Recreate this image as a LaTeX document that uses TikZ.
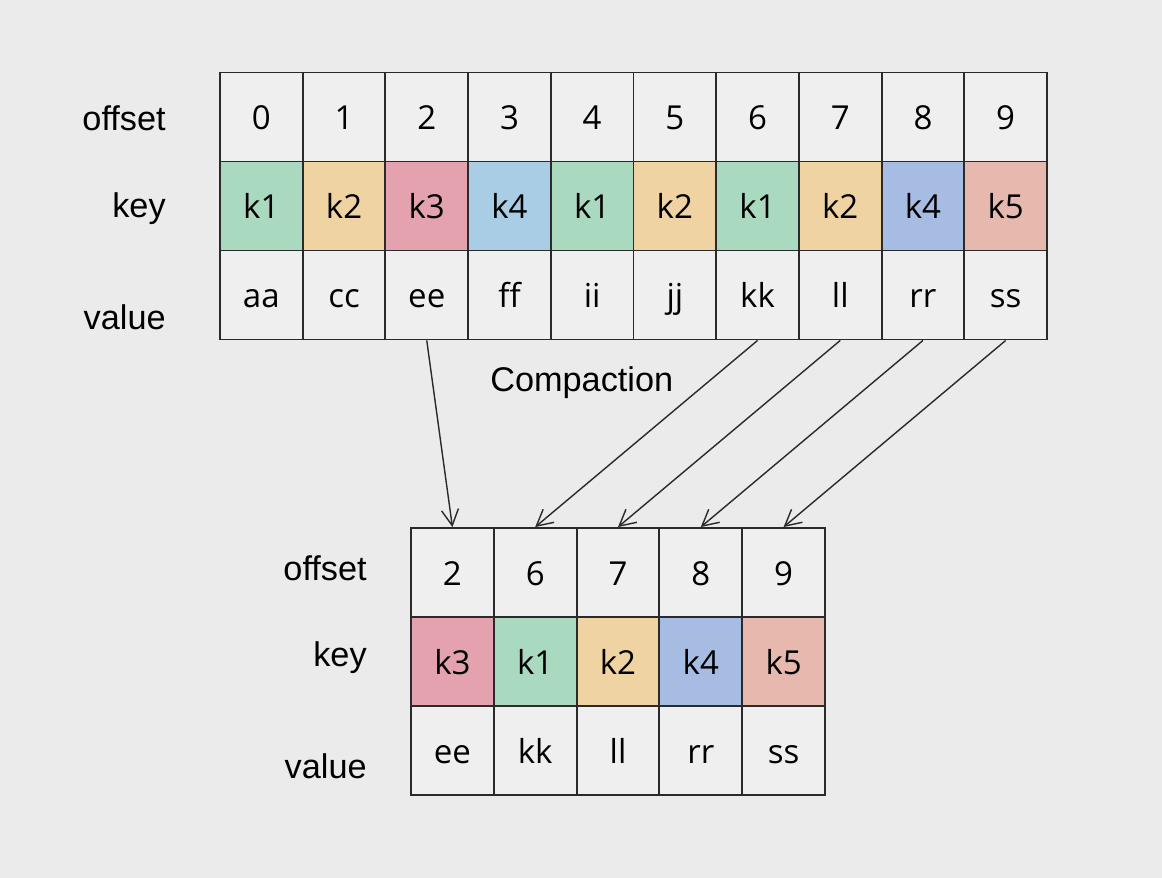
\documentclass[tikz,border=0pt]{standalone}
\usepackage{fontspec}
\setmainfont{Open Sans}
\newfontfamily\lblfont{Liberation Sans}
\usetikzlibrary{arrows.meta}
\definecolor{Back}{HTML}{EBEBEB}
\definecolor{Cell}{HTML}{EFEFEF}
\definecolor{Edge}{HTML}{2A2A2A}
\definecolor{KeyA}{HTML}{A9D9BF}
\definecolor{KeyB}{HTML}{EFD3A2}
\definecolor{KeyC}{HTML}{E3A2AD}
\definecolor{KeyD}{HTML}{A8CDE4}
\definecolor{KeyE}{HTML}{A7BCE3}
\definecolor{KeyF}{HTML}{E7B8AE}
\tikzset{cell/.style={draw=Edge,fill=Cell,line width=1.1pt,minimum width=1.654cm,minimum height=1.78cm,inner sep=0pt,text height=17pt,text depth=2.3pt,font=\fontsize{18.8}{22}\selectfont},rowlabel/.style={anchor=base east,inner sep=0pt,font=\lblfont\fontsize{19.5}{23}\selectfont},move/.style={-{Straight Barb[length=3.2mm,width=3.4mm]},line width=.8pt,draw=Edge}}
\begin{document}
\begin{tikzpicture}[x=.02cm,y=-.02cm]
        \useasboundingbox[fill=Back](0,0)rectangle(1162,878);
        % before compaction
        \foreach \o/\k/\c/\v [count=\i from 0] in {0/k1/KeyA/aa,1/k2/KeyB/cc,2/k3/KeyC/ee,3/k4/KeyD/ff,4/k1/KeyA/ii,5/k2/KeyB/jj,6/k1/KeyA/kk,7/k2/KeyB/ll,8/k4/KeyE/rr,9/k5/KeyF/ss}{
          \node[cell] (o\i) at ({261.35+82.7*\i},117){\o};
          \node[cell,fill=\c] (k\i) at ({261.35+82.7*\i},206){\k};
          \node[cell] (v\i) at ({261.35+82.7*\i},295){\v};
        }
        \node[rowlabel] (lo) at (166,130.7){offset};
        \node[rowlabel] (lk) at (166,217.7){key};
        \node[rowlabel] (lv) at (166,330){value};
        % after compaction
        \foreach \o/\k/\c/\v [count=\i from 0] in {2/k3/KeyC/ee,6/k1/KeyA/kk,7/k2/KeyB/ll,8/k4/KeyE/rr,9/k5/KeyF/ss}{
          \node[cell] (bo\i) at ({452.4+82.8*\i},572.5){\o};
          \node[cell,fill=\c] (bk\i) at ({452.4+82.8*\i},661.5){\k};
          \node[cell] (bv\i) at ({452.4+82.8*\i},750.5){\v};
        }
        \node[rowlabel] (blo) at (367,580){offset};
        \node[rowlabel] (blk) at (367,666.7){key};
        \node[rowlabel] (blv) at (367,778){value};
        \node[anchor=base west,inner sep=0pt,font=\lblfont\fontsize{19.5}{23}\selectfont] (cmp) at (490,391.7){Compaction};
        \draw[move](v2.south)--(bo0.north);
        \draw[move](v6.south)--(bo1.north);
        \draw[move](v7.south)--(bo2.north);
        \draw[move](v8.south)--(bo3.north);
        \draw[move](v9.south)--(bo4.north);
      \end{tikzpicture}
\end{document}
